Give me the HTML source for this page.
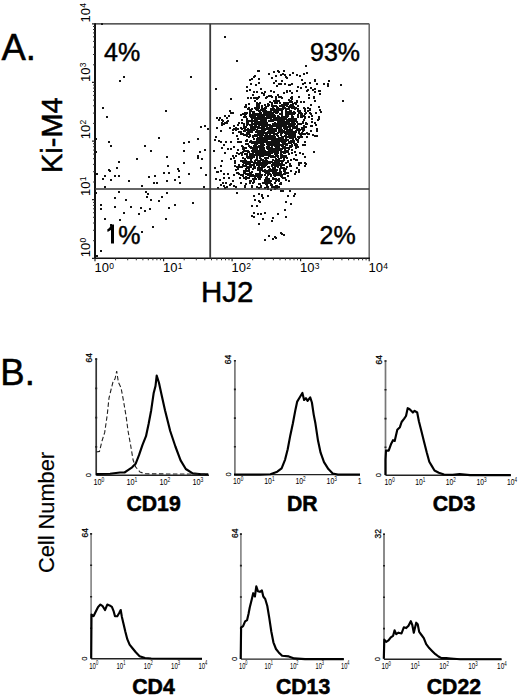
<!DOCTYPE html>
<html><head><meta charset="utf-8"><title>Figure</title><style>
html,body{margin:0;padding:0;background:#fff;width:520px;height:696px;overflow:hidden}
svg{display:block}
text{font-family:"Liberation Sans",sans-serif;fill:#000}
</style></head><body>
<svg width="520" height="696" viewBox="0 0 520 696">
<text x="1.5" y="59.8" font-size="36.5" stroke="#000" stroke-width="0.5">A.</text>
<path d="M101 23h2v2h-2zM119 80h2v2h-2zM123 76h2v2h-2zM190 76h2v2h-2zM102 107h2v2h-2zM102 107h2v2h-2zM106 116h2v2h-2zM165 110h2v2h-2zM200 126h2v2h-2zM204 125h2v2h-2zM207 128h2v2h-2zM95 138h2v2h-2zM108 141h2v2h-2zM110 145h2v2h-2zM158 137h2v2h-2zM144 145h2v2h-2zM150 150h2v2h-2zM95 151h2v2h-2zM136 158h2v2h-2zM166 156h2v2h-2zM183 142h2v2h-2zM188 141h2v2h-2zM197 138h2v2h-2zM183 150h2v2h-2zM199 151h2v2h-2zM204 149h2v2h-2zM197 155h2v2h-2zM197 157h2v2h-2zM201 158h2v2h-2zM118 161h2v2h-2zM116 167h2v2h-2zM108 169h2v2h-2zM109 170h2v2h-2zM167 165h2v2h-2zM183 162h2v2h-2zM200 167h2v2h-2zM96 173h2v2h-2zM104 175h2v2h-2zM114 175h2v2h-2zM118 175h2v2h-2zM177 168h2v2h-2zM178 170h2v2h-2zM163 172h2v2h-2zM168 172h2v2h-2zM188 173h2v2h-2zM205 174h2v2h-2zM102 178h2v2h-2zM110 179h2v2h-2zM128 180h2v2h-2zM148 176h2v2h-2zM154 175h2v2h-2zM178 176h2v2h-2zM166 180h2v2h-2zM174 179h2v2h-2zM153 182h2v2h-2zM156 182h2v2h-2zM179 182h2v2h-2zM141 185h2v2h-2zM104 186h2v2h-2zM203 186h2v2h-2zM95 192h2v2h-2zM118 191h2v2h-2zM145 191h2v2h-2zM147 193h2v2h-2zM166 192h2v2h-2zM114 197h2v2h-2zM125 199h2v2h-2zM146 196h2v2h-2zM150 199h2v2h-2zM158 200h2v2h-2zM161 196h2v2h-2zM100 204h2v2h-2zM114 206h2v2h-2zM130 206h2v2h-2zM140 207h2v2h-2zM149 208h2v2h-2zM144 210h2v2h-2zM168 207h2v2h-2zM174 204h2v2h-2zM192 202h2v2h-2zM100 208h2v2h-2zM123 212h2v2h-2zM138 213h2v2h-2zM104 218h2v2h-2zM119 219h2v2h-2zM165 218h2v2h-2zM110 224h2v2h-2zM152 226h2v2h-2zM141 231h2v2h-2zM100 250h2v2h-2zM96 255h2v2h-2zM224 36h2v2h-2zM236 60h2v2h-2zM305 65h2v2h-2zM215 88h2v2h-2zM340 84h2v2h-2zM342 100h2v2h-2zM230 98h2v2h-2zM267 124h2v2h-2zM301 116h2v2h-2zM267 131h2v2h-2zM276 139h2v2h-2zM305 126h2v2h-2zM276 124h2v2h-2zM253 138h2v2h-2zM267 105h2v2h-2zM284 104h2v2h-2zM258 104h2v2h-2zM278 127h2v2h-2zM256 117h2v2h-2zM279 123h2v2h-2zM255 152h2v2h-2zM297 108h2v2h-2zM264 120h2v2h-2zM260 143h2v2h-2zM251 108h2v2h-2zM256 104h2v2h-2zM283 116h2v2h-2zM249 111h2v2h-2zM285 104h2v2h-2zM290 120h2v2h-2zM262 116h2v2h-2zM268 152h2v2h-2zM271 127h2v2h-2zM278 109h2v2h-2zM251 118h2v2h-2zM275 109h2v2h-2zM277 144h2v2h-2zM285 114h2v2h-2zM267 132h2v2h-2zM285 121h2v2h-2zM295 145h2v2h-2zM286 132h2v2h-2zM266 117h2v2h-2zM250 116h2v2h-2zM259 132h2v2h-2zM292 107h2v2h-2zM273 133h2v2h-2zM256 135h2v2h-2zM268 148h2v2h-2zM265 125h2v2h-2zM284 149h2v2h-2zM268 104h2v2h-2zM296 144h2v2h-2zM253 141h2v2h-2zM264 104h2v2h-2zM266 147h2v2h-2zM245 126h2v2h-2zM290 104h2v2h-2zM272 123h2v2h-2zM287 123h2v2h-2zM271 114h2v2h-2zM279 138h2v2h-2zM260 117h2v2h-2zM253 149h2v2h-2zM269 126h2v2h-2zM264 135h2v2h-2zM246 139h2v2h-2zM253 123h2v2h-2zM268 135h2v2h-2zM288 133h2v2h-2zM246 120h2v2h-2zM291 144h2v2h-2zM294 123h2v2h-2zM279 148h2v2h-2zM285 131h2v2h-2zM284 139h2v2h-2zM292 118h2v2h-2zM275 148h2v2h-2zM261 115h2v2h-2zM291 116h2v2h-2zM275 130h2v2h-2zM258 146h2v2h-2zM283 127h2v2h-2zM272 136h2v2h-2zM279 118h2v2h-2zM258 118h2v2h-2zM252 120h2v2h-2zM275 141h2v2h-2zM294 133h2v2h-2zM288 142h2v2h-2zM267 142h2v2h-2zM289 133h2v2h-2zM265 125h2v2h-2zM294 144h2v2h-2zM244 128h2v2h-2zM277 111h2v2h-2zM261 123h2v2h-2zM254 107h2v2h-2zM268 146h2v2h-2zM271 147h2v2h-2zM272 143h2v2h-2zM276 141h2v2h-2zM252 113h2v2h-2zM286 119h2v2h-2zM296 129h2v2h-2zM274 125h2v2h-2zM284 147h2v2h-2zM265 111h2v2h-2zM240 133h2v2h-2zM243 127h2v2h-2zM286 120h2v2h-2zM291 152h2v2h-2zM266 122h2v2h-2zM271 142h2v2h-2zM298 128h2v2h-2zM265 107h2v2h-2zM274 148h2v2h-2zM259 111h2v2h-2zM262 142h2v2h-2zM266 146h2v2h-2zM278 145h2v2h-2zM272 142h2v2h-2zM257 97h2v2h-2zM250 120h2v2h-2zM276 112h2v2h-2zM261 117h2v2h-2zM242 133h2v2h-2zM282 142h2v2h-2zM286 122h2v2h-2zM271 125h2v2h-2zM265 97h2v2h-2zM241 128h2v2h-2zM252 126h2v2h-2zM281 112h2v2h-2zM248 120h2v2h-2zM266 96h2v2h-2zM246 129h2v2h-2zM247 128h2v2h-2zM263 139h2v2h-2zM273 105h2v2h-2zM265 132h2v2h-2zM251 130h2v2h-2zM283 120h2v2h-2zM281 114h2v2h-2zM278 116h2v2h-2zM263 141h2v2h-2zM282 125h2v2h-2zM256 102h2v2h-2zM246 135h2v2h-2zM277 118h2v2h-2zM263 122h2v2h-2zM271 126h2v2h-2zM280 125h2v2h-2zM263 119h2v2h-2zM294 131h2v2h-2zM236 135h2v2h-2zM274 148h2v2h-2zM286 132h2v2h-2zM249 134h2v2h-2zM272 141h2v2h-2zM279 131h2v2h-2zM261 108h2v2h-2zM281 110h2v2h-2zM254 113h2v2h-2zM258 115h2v2h-2zM303 127h2v2h-2zM280 133h2v2h-2zM297 105h2v2h-2zM290 97h2v2h-2zM267 103h2v2h-2zM269 138h2v2h-2zM293 119h2v2h-2zM274 148h2v2h-2zM248 132h2v2h-2zM267 144h2v2h-2zM262 132h2v2h-2zM296 100h2v2h-2zM272 106h2v2h-2zM302 144h2v2h-2zM312 134h2v2h-2zM287 103h2v2h-2zM279 117h2v2h-2zM270 141h2v2h-2zM280 134h2v2h-2zM275 97h2v2h-2zM274 115h2v2h-2zM237 138h2v2h-2zM276 134h2v2h-2zM303 101h2v2h-2zM269 124h2v2h-2zM249 109h2v2h-2zM284 143h2v2h-2zM302 133h2v2h-2zM275 141h2v2h-2zM270 143h2v2h-2zM270 120h2v2h-2zM290 142h2v2h-2zM273 137h2v2h-2zM304 113h2v2h-2zM281 140h2v2h-2zM295 154h2v2h-2zM254 125h2v2h-2zM263 126h2v2h-2zM277 120h2v2h-2zM262 125h2v2h-2zM254 127h2v2h-2zM288 134h2v2h-2zM285 143h2v2h-2zM285 121h2v2h-2zM289 120h2v2h-2zM253 127h2v2h-2zM269 133h2v2h-2zM297 129h2v2h-2zM256 148h2v2h-2zM276 126h2v2h-2zM299 110h2v2h-2zM299 110h2v2h-2zM303 107h2v2h-2zM258 113h2v2h-2zM283 102h2v2h-2zM278 138h2v2h-2zM263 129h2v2h-2zM301 128h2v2h-2zM257 134h2v2h-2zM303 126h2v2h-2zM265 123h2v2h-2zM285 115h2v2h-2zM272 124h2v2h-2zM247 131h2v2h-2zM252 117h2v2h-2zM265 121h2v2h-2zM254 134h2v2h-2zM267 143h2v2h-2zM272 105h2v2h-2zM262 127h2v2h-2zM268 147h2v2h-2zM253 135h2v2h-2zM265 114h2v2h-2zM293 133h2v2h-2zM278 130h2v2h-2zM281 129h2v2h-2zM262 153h2v2h-2zM257 114h2v2h-2zM259 102h2v2h-2zM282 118h2v2h-2zM272 116h2v2h-2zM272 129h2v2h-2zM291 113h2v2h-2zM254 123h2v2h-2zM249 134h2v2h-2zM262 134h2v2h-2zM252 123h2v2h-2zM287 108h2v2h-2zM264 123h2v2h-2zM275 123h2v2h-2zM260 123h2v2h-2zM256 106h2v2h-2zM261 114h2v2h-2zM286 147h2v2h-2zM281 138h2v2h-2zM269 141h2v2h-2zM279 109h2v2h-2zM274 100h2v2h-2zM295 118h2v2h-2zM292 104h2v2h-2zM249 135h2v2h-2zM258 107h2v2h-2zM250 110h2v2h-2zM277 132h2v2h-2zM262 130h2v2h-2zM273 117h2v2h-2zM249 124h2v2h-2zM252 141h2v2h-2zM269 120h2v2h-2zM272 112h2v2h-2zM260 119h2v2h-2zM257 137h2v2h-2zM271 140h2v2h-2zM275 124h2v2h-2zM245 134h2v2h-2zM257 131h2v2h-2zM257 146h2v2h-2zM275 138h2v2h-2zM247 128h2v2h-2zM260 146h2v2h-2zM289 101h2v2h-2zM256 139h2v2h-2zM288 123h2v2h-2zM276 153h2v2h-2zM258 106h2v2h-2zM261 115h2v2h-2zM268 114h2v2h-2zM292 124h2v2h-2zM257 104h2v2h-2zM267 137h2v2h-2zM249 120h2v2h-2zM263 114h2v2h-2zM251 115h2v2h-2zM286 130h2v2h-2zM271 115h2v2h-2zM289 127h2v2h-2zM278 147h2v2h-2zM289 113h2v2h-2zM274 116h2v2h-2zM278 121h2v2h-2zM271 126h2v2h-2zM243 125h2v2h-2zM286 122h2v2h-2zM287 111h2v2h-2zM240 114h2v2h-2zM257 134h2v2h-2zM297 108h2v2h-2zM249 131h2v2h-2zM286 127h2v2h-2zM291 131h2v2h-2zM271 109h2v2h-2zM291 140h2v2h-2zM300 134h2v2h-2zM296 101h2v2h-2zM277 126h2v2h-2zM251 126h2v2h-2zM278 142h2v2h-2zM261 123h2v2h-2zM271 128h2v2h-2zM255 122h2v2h-2zM264 109h2v2h-2zM269 143h2v2h-2zM256 135h2v2h-2zM257 132h2v2h-2zM275 105h2v2h-2zM291 118h2v2h-2zM257 139h2v2h-2zM268 150h2v2h-2zM285 109h2v2h-2zM270 137h2v2h-2zM288 125h2v2h-2zM307 107h2v2h-2zM250 129h2v2h-2zM284 125h2v2h-2zM260 122h2v2h-2zM273 109h2v2h-2zM283 104h2v2h-2zM294 120h2v2h-2zM280 122h2v2h-2zM292 125h2v2h-2zM277 107h2v2h-2zM253 145h2v2h-2zM274 102h2v2h-2zM249 141h2v2h-2zM281 111h2v2h-2zM291 152h2v2h-2zM283 143h2v2h-2zM287 139h2v2h-2zM265 134h2v2h-2zM298 130h2v2h-2zM285 144h2v2h-2zM293 134h2v2h-2zM263 129h2v2h-2zM276 106h2v2h-2zM293 118h2v2h-2zM256 147h2v2h-2zM274 124h2v2h-2zM253 115h2v2h-2zM266 140h2v2h-2zM294 132h2v2h-2zM289 131h2v2h-2zM260 116h2v2h-2zM269 127h2v2h-2zM294 136h2v2h-2zM244 130h2v2h-2zM274 145h2v2h-2zM268 131h2v2h-2zM272 155h2v2h-2zM268 120h2v2h-2zM271 105h2v2h-2zM296 144h2v2h-2zM243 134h2v2h-2zM250 127h2v2h-2zM263 112h2v2h-2zM280 140h2v2h-2zM267 113h2v2h-2zM272 125h2v2h-2zM275 112h2v2h-2zM253 117h2v2h-2zM277 107h2v2h-2zM288 99h2v2h-2zM259 118h2v2h-2zM248 133h2v2h-2zM281 125h2v2h-2zM285 118h2v2h-2zM262 110h2v2h-2zM254 115h2v2h-2zM270 148h2v2h-2zM257 141h2v2h-2zM284 128h2v2h-2zM251 122h2v2h-2zM298 137h2v2h-2zM264 136h2v2h-2zM259 117h2v2h-2zM281 154h2v2h-2zM254 100h2v2h-2zM281 125h2v2h-2zM297 123h2v2h-2zM261 141h2v2h-2zM260 112h2v2h-2zM289 123h2v2h-2zM289 106h2v2h-2zM258 138h2v2h-2zM280 129h2v2h-2zM279 119h2v2h-2zM288 118h2v2h-2zM261 146h2v2h-2zM263 144h2v2h-2zM297 141h2v2h-2zM258 122h2v2h-2zM259 132h2v2h-2zM261 105h2v2h-2zM256 134h2v2h-2zM286 111h2v2h-2zM296 127h2v2h-2zM288 142h2v2h-2zM273 100h2v2h-2zM259 133h2v2h-2zM246 134h2v2h-2zM247 108h2v2h-2zM261 125h2v2h-2zM264 110h2v2h-2zM254 119h2v2h-2zM292 134h2v2h-2zM269 142h2v2h-2zM271 115h2v2h-2zM272 107h2v2h-2zM283 106h2v2h-2zM256 150h2v2h-2zM281 132h2v2h-2zM285 112h2v2h-2zM292 141h2v2h-2zM288 148h2v2h-2zM268 117h2v2h-2zM286 119h2v2h-2zM294 127h2v2h-2zM266 112h2v2h-2zM251 115h2v2h-2zM298 136h2v2h-2zM286 105h2v2h-2zM290 146h2v2h-2zM262 150h2v2h-2zM264 107h2v2h-2zM297 129h2v2h-2zM271 120h2v2h-2zM276 112h2v2h-2zM280 137h2v2h-2zM278 122h2v2h-2zM264 129h2v2h-2zM289 120h2v2h-2zM270 143h2v2h-2zM243 116h2v2h-2zM281 114h2v2h-2zM274 122h2v2h-2zM255 135h2v2h-2zM265 135h2v2h-2zM295 131h2v2h-2zM260 133h2v2h-2zM293 113h2v2h-2zM270 117h2v2h-2zM289 131h2v2h-2zM295 107h2v2h-2zM266 125h2v2h-2zM293 106h2v2h-2zM275 125h2v2h-2zM283 121h2v2h-2zM285 110h2v2h-2zM255 125h2v2h-2zM258 118h2v2h-2zM291 123h2v2h-2zM256 107h2v2h-2zM262 114h2v2h-2zM283 123h2v2h-2zM251 128h2v2h-2zM235 129h2v2h-2zM269 120h2v2h-2zM254 121h2v2h-2zM256 113h2v2h-2zM247 121h2v2h-2zM270 144h2v2h-2zM282 106h2v2h-2zM283 125h2v2h-2zM277 115h2v2h-2zM271 119h2v2h-2zM266 113h2v2h-2zM289 137h2v2h-2zM281 131h2v2h-2zM273 114h2v2h-2zM281 119h2v2h-2zM284 135h2v2h-2zM271 102h2v2h-2zM273 117h2v2h-2zM292 120h2v2h-2zM245 113h2v2h-2zM262 144h2v2h-2zM240 131h2v2h-2zM263 137h2v2h-2zM281 148h2v2h-2zM287 131h2v2h-2zM249 113h2v2h-2zM283 103h2v2h-2zM278 128h2v2h-2zM292 133h2v2h-2zM290 140h2v2h-2zM291 116h2v2h-2zM283 107h2v2h-2zM259 134h2v2h-2zM271 135h2v2h-2zM296 139h2v2h-2zM281 110h2v2h-2zM281 137h2v2h-2zM279 113h2v2h-2zM292 112h2v2h-2zM259 136h2v2h-2zM274 124h2v2h-2zM260 130h2v2h-2zM272 120h2v2h-2zM277 111h2v2h-2zM281 132h2v2h-2zM260 144h2v2h-2zM284 126h2v2h-2zM283 118h2v2h-2zM258 116h2v2h-2zM256 123h2v2h-2zM262 123h2v2h-2zM263 150h2v2h-2zM285 137h2v2h-2zM291 132h2v2h-2zM262 122h2v2h-2zM285 140h2v2h-2zM245 106h2v2h-2zM255 126h2v2h-2zM274 130h2v2h-2zM285 114h2v2h-2zM273 105h2v2h-2zM252 136h2v2h-2zM278 137h2v2h-2zM272 124h2v2h-2zM287 129h2v2h-2zM308 133h2v2h-2zM271 105h2v2h-2zM280 144h2v2h-2zM277 132h2v2h-2zM294 136h2v2h-2zM262 125h2v2h-2zM288 130h2v2h-2zM255 114h2v2h-2zM262 153h2v2h-2zM274 150h2v2h-2zM280 108h2v2h-2zM281 123h2v2h-2zM286 139h2v2h-2zM305 123h2v2h-2zM289 120h2v2h-2zM252 136h2v2h-2zM294 112h2v2h-2zM269 141h2v2h-2zM251 114h2v2h-2zM281 144h2v2h-2zM274 137h2v2h-2zM269 115h2v2h-2zM249 120h2v2h-2zM275 130h2v2h-2zM289 113h2v2h-2zM301 132h2v2h-2zM246 140h2v2h-2zM254 120h2v2h-2zM290 134h2v2h-2zM264 141h2v2h-2zM260 114h2v2h-2zM255 113h2v2h-2zM272 148h2v2h-2zM265 118h2v2h-2zM271 141h2v2h-2zM289 110h2v2h-2zM278 100h2v2h-2zM260 114h2v2h-2zM290 125h2v2h-2zM286 113h2v2h-2zM275 139h2v2h-2zM284 132h2v2h-2zM256 118h2v2h-2zM274 133h2v2h-2zM280 109h2v2h-2zM269 101h2v2h-2zM290 129h2v2h-2zM271 125h2v2h-2zM258 132h2v2h-2zM299 129h2v2h-2zM292 103h2v2h-2zM280 105h2v2h-2zM273 129h2v2h-2zM281 111h2v2h-2zM276 149h2v2h-2zM262 126h2v2h-2zM294 120h2v2h-2zM272 131h2v2h-2zM256 130h2v2h-2zM299 136h2v2h-2zM260 145h2v2h-2zM273 142h2v2h-2zM293 119h2v2h-2zM288 122h2v2h-2zM284 123h2v2h-2zM282 137h2v2h-2zM286 113h2v2h-2zM267 146h2v2h-2zM277 116h2v2h-2zM290 135h2v2h-2zM276 138h2v2h-2zM285 136h2v2h-2zM275 138h2v2h-2zM293 111h2v2h-2zM285 117h2v2h-2zM252 112h2v2h-2zM279 137h2v2h-2zM269 128h2v2h-2zM270 110h2v2h-2zM268 127h2v2h-2zM253 142h2v2h-2zM276 117h2v2h-2zM256 134h2v2h-2zM260 153h2v2h-2zM300 123h2v2h-2zM242 146h2v2h-2zM258 140h2v2h-2zM290 136h2v2h-2zM283 131h2v2h-2zM246 124h2v2h-2zM243 113h2v2h-2zM247 123h2v2h-2zM263 130h2v2h-2zM272 139h2v2h-2zM268 115h2v2h-2zM253 120h2v2h-2zM256 113h2v2h-2zM263 137h2v2h-2zM254 128h2v2h-2zM292 131h2v2h-2zM269 112h2v2h-2zM258 132h2v2h-2zM257 116h2v2h-2zM257 118h2v2h-2zM263 138h2v2h-2zM297 110h2v2h-2zM279 131h2v2h-2zM271 127h2v2h-2zM285 104h2v2h-2zM298 123h2v2h-2zM267 151h2v2h-2zM291 135h2v2h-2zM283 123h2v2h-2zM261 127h2v2h-2zM269 135h2v2h-2zM250 127h2v2h-2zM292 118h2v2h-2zM273 119h2v2h-2zM271 104h2v2h-2zM284 141h2v2h-2zM283 116h2v2h-2zM273 149h2v2h-2zM252 128h2v2h-2zM277 143h2v2h-2zM301 113h2v2h-2zM285 151h2v2h-2zM291 101h2v2h-2zM270 113h2v2h-2zM248 129h2v2h-2zM270 108h2v2h-2zM255 121h2v2h-2zM259 127h2v2h-2zM268 128h2v2h-2zM262 128h2v2h-2zM261 146h2v2h-2zM288 147h2v2h-2zM279 117h2v2h-2zM289 118h2v2h-2zM274 110h2v2h-2zM263 108h2v2h-2zM235 127h2v2h-2zM282 155h2v2h-2zM260 144h2v2h-2zM288 153h2v2h-2zM266 115h2v2h-2zM246 118h2v2h-2zM302 121h2v2h-2zM286 136h2v2h-2zM285 144h2v2h-2zM271 155h2v2h-2zM263 117h2v2h-2zM264 129h2v2h-2zM242 113h2v2h-2zM256 134h2v2h-2zM304 141h2v2h-2zM260 109h2v2h-2zM273 129h2v2h-2zM278 138h2v2h-2zM291 122h2v2h-2zM266 127h2v2h-2zM286 131h2v2h-2zM293 124h2v2h-2zM263 127h2v2h-2zM297 114h2v2h-2zM256 143h2v2h-2zM272 125h2v2h-2zM270 119h2v2h-2zM278 139h2v2h-2zM283 139h2v2h-2zM273 124h2v2h-2zM275 141h2v2h-2zM287 122h2v2h-2zM288 108h2v2h-2zM270 95h2v2h-2zM258 138h2v2h-2zM304 117h2v2h-2zM256 126h2v2h-2zM249 115h2v2h-2zM297 116h2v2h-2zM293 131h2v2h-2zM295 126h2v2h-2zM262 140h2v2h-2zM273 140h2v2h-2zM259 136h2v2h-2zM253 129h2v2h-2zM278 140h2v2h-2zM264 138h2v2h-2zM284 127h2v2h-2zM294 118h2v2h-2zM288 126h2v2h-2zM297 139h2v2h-2zM293 136h2v2h-2zM256 121h2v2h-2zM262 130h2v2h-2zM256 138h2v2h-2zM285 134h2v2h-2zM265 120h2v2h-2zM290 100h2v2h-2zM275 99h2v2h-2zM269 120h2v2h-2zM287 131h2v2h-2zM261 129h2v2h-2zM256 106h2v2h-2zM287 126h2v2h-2zM295 119h2v2h-2zM291 136h2v2h-2zM262 147h2v2h-2zM292 103h2v2h-2zM248 107h2v2h-2zM275 96h2v2h-2zM260 117h2v2h-2zM286 139h2v2h-2zM275 142h2v2h-2zM291 149h2v2h-2zM271 115h2v2h-2zM264 132h2v2h-2zM276 107h2v2h-2zM258 125h2v2h-2zM260 119h2v2h-2zM279 105h2v2h-2zM276 125h2v2h-2zM265 128h2v2h-2zM284 121h2v2h-2zM267 135h2v2h-2zM279 129h2v2h-2zM287 113h2v2h-2zM291 125h2v2h-2zM300 101h2v2h-2zM268 129h2v2h-2zM286 111h2v2h-2zM265 117h2v2h-2zM262 146h2v2h-2zM286 104h2v2h-2zM308 116h2v2h-2zM276 127h2v2h-2zM262 125h2v2h-2zM245 140h2v2h-2zM292 137h2v2h-2zM273 108h2v2h-2zM256 120h2v2h-2zM292 136h2v2h-2zM290 130h2v2h-2zM258 124h2v2h-2zM276 161h2v2h-2zM263 130h2v2h-2zM271 132h2v2h-2zM253 146h2v2h-2zM258 110h2v2h-2zM276 133h2v2h-2zM280 150h2v2h-2zM278 96h2v2h-2zM273 110h2v2h-2zM240 127h2v2h-2zM261 92h2v2h-2zM290 110h2v2h-2zM295 144h2v2h-2zM285 125h2v2h-2zM270 135h2v2h-2zM268 136h2v2h-2zM287 111h2v2h-2zM289 112h2v2h-2zM281 145h2v2h-2zM254 119h2v2h-2zM279 121h2v2h-2zM266 139h2v2h-2zM273 130h2v2h-2zM285 123h2v2h-2zM287 102h2v2h-2zM278 161h2v2h-2zM253 111h2v2h-2zM255 108h2v2h-2zM285 108h2v2h-2zM275 110h2v2h-2zM276 142h2v2h-2zM258 121h2v2h-2zM243 130h2v2h-2zM291 98h2v2h-2zM267 147h2v2h-2zM302 130h2v2h-2zM282 121h2v2h-2zM280 118h2v2h-2zM273 132h2v2h-2zM256 129h2v2h-2zM270 112h2v2h-2zM280 117h2v2h-2zM261 144h2v2h-2zM248 136h2v2h-2zM272 144h2v2h-2zM260 124h2v2h-2zM282 130h2v2h-2zM275 138h2v2h-2zM292 116h2v2h-2zM277 149h2v2h-2zM278 144h2v2h-2zM274 139h2v2h-2zM273 119h2v2h-2zM279 122h2v2h-2zM275 128h2v2h-2zM298 129h2v2h-2zM255 145h2v2h-2zM272 124h2v2h-2zM269 148h2v2h-2zM289 105h2v2h-2zM277 121h2v2h-2zM291 105h2v2h-2zM300 112h2v2h-2zM265 125h2v2h-2zM247 97h2v2h-2zM243 123h2v2h-2zM288 106h2v2h-2zM296 121h2v2h-2zM287 151h2v2h-2zM274 151h2v2h-2zM294 134h2v2h-2zM265 106h2v2h-2zM292 139h2v2h-2zM278 125h2v2h-2zM303 129h2v2h-2zM295 107h2v2h-2zM286 144h2v2h-2zM264 118h2v2h-2zM272 116h2v2h-2zM275 101h2v2h-2zM289 125h2v2h-2zM241 145h2v2h-2zM256 141h2v2h-2zM280 138h2v2h-2zM262 125h2v2h-2zM304 108h2v2h-2zM273 111h2v2h-2zM281 117h2v2h-2zM284 124h2v2h-2zM267 128h2v2h-2zM259 142h2v2h-2zM269 141h2v2h-2zM272 125h2v2h-2zM299 133h2v2h-2zM263 94h2v2h-2zM289 124h2v2h-2zM293 126h2v2h-2zM250 109h2v2h-2zM254 126h2v2h-2zM264 122h2v2h-2zM265 113h2v2h-2zM295 147h2v2h-2zM249 130h2v2h-2zM281 115h2v2h-2zM256 147h2v2h-2zM269 134h2v2h-2zM264 140h2v2h-2zM299 152h2v2h-2zM257 150h2v2h-2zM257 122h2v2h-2zM284 107h2v2h-2zM263 148h2v2h-2zM274 153h2v2h-2zM294 108h2v2h-2zM283 121h2v2h-2zM289 130h2v2h-2zM268 116h2v2h-2zM260 115h2v2h-2zM289 119h2v2h-2zM257 114h2v2h-2zM264 122h2v2h-2zM258 123h2v2h-2zM289 134h2v2h-2zM293 140h2v2h-2zM286 133h2v2h-2zM316 130h2v2h-2zM290 146h2v2h-2zM291 129h2v2h-2zM303 115h2v2h-2zM262 118h2v2h-2zM281 113h2v2h-2zM254 117h2v2h-2zM280 120h2v2h-2zM261 136h2v2h-2zM286 131h2v2h-2zM280 127h2v2h-2zM244 106h2v2h-2zM275 140h2v2h-2zM274 136h2v2h-2zM287 115h2v2h-2zM283 105h2v2h-2zM285 147h2v2h-2zM286 119h2v2h-2zM268 111h2v2h-2zM310 130h2v2h-2zM266 141h2v2h-2zM268 141h2v2h-2zM257 127h2v2h-2zM297 105h2v2h-2zM279 102h2v2h-2zM256 105h2v2h-2zM254 143h2v2h-2zM255 131h2v2h-2zM274 119h2v2h-2zM262 109h2v2h-2zM264 150h2v2h-2zM262 152h2v2h-2zM285 117h2v2h-2zM282 122h2v2h-2zM285 124h2v2h-2zM258 130h2v2h-2zM245 113h2v2h-2zM257 132h2v2h-2zM270 127h2v2h-2zM290 136h2v2h-2zM309 112h2v2h-2zM294 151h2v2h-2zM285 121h2v2h-2zM258 107h2v2h-2zM270 120h2v2h-2zM276 102h2v2h-2zM264 114h2v2h-2zM289 128h2v2h-2zM294 123h2v2h-2zM280 134h2v2h-2zM302 122h2v2h-2zM291 130h2v2h-2zM278 122h2v2h-2zM262 128h2v2h-2zM267 111h2v2h-2zM260 152h2v2h-2zM275 118h2v2h-2zM303 126h2v2h-2zM281 145h2v2h-2zM260 121h2v2h-2zM246 132h2v2h-2zM250 125h2v2h-2zM251 131h2v2h-2zM302 115h2v2h-2zM291 137h2v2h-2zM273 125h2v2h-2zM301 127h2v2h-2zM275 145h2v2h-2zM245 116h2v2h-2zM241 119h2v2h-2zM282 108h2v2h-2zM275 139h2v2h-2zM282 119h2v2h-2zM262 114h2v2h-2zM291 96h2v2h-2zM293 142h2v2h-2zM290 130h2v2h-2zM256 109h2v2h-2zM261 134h2v2h-2zM263 116h2v2h-2zM284 102h2v2h-2zM273 128h2v2h-2zM286 116h2v2h-2zM261 107h2v2h-2zM300 114h2v2h-2zM258 151h2v2h-2zM259 134h2v2h-2zM274 116h2v2h-2zM262 119h2v2h-2zM290 112h2v2h-2zM283 130h2v2h-2zM285 139h2v2h-2zM305 122h2v2h-2zM267 132h2v2h-2zM269 131h2v2h-2zM265 110h2v2h-2zM277 145h2v2h-2zM263 125h2v2h-2zM291 140h2v2h-2zM248 103h2v2h-2zM254 134h2v2h-2zM298 112h2v2h-2zM247 131h2v2h-2zM278 124h2v2h-2zM259 116h2v2h-2zM261 124h2v2h-2zM270 141h2v2h-2zM291 114h2v2h-2zM282 123h2v2h-2zM256 126h2v2h-2zM254 127h2v2h-2zM268 111h2v2h-2zM273 117h2v2h-2zM295 143h2v2h-2zM252 135h2v2h-2zM257 108h2v2h-2zM279 126h2v2h-2zM264 122h2v2h-2zM310 125h2v2h-2zM300 113h2v2h-2zM295 130h2v2h-2zM295 138h2v2h-2zM245 104h2v2h-2zM262 120h2v2h-2zM257 142h2v2h-2zM275 158h2v2h-2zM262 131h2v2h-2zM266 122h2v2h-2zM291 107h2v2h-2zM244 112h2v2h-2zM276 100h2v2h-2zM281 114h2v2h-2zM241 122h2v2h-2zM264 139h2v2h-2zM246 112h2v2h-2zM263 125h2v2h-2zM277 152h2v2h-2zM275 133h2v2h-2zM298 137h2v2h-2zM256 109h2v2h-2zM295 103h2v2h-2zM254 122h2v2h-2zM270 114h2v2h-2zM279 108h2v2h-2zM276 134h2v2h-2zM290 118h2v2h-2zM274 102h2v2h-2zM290 112h2v2h-2zM258 123h2v2h-2zM270 130h2v2h-2zM290 130h2v2h-2zM273 117h2v2h-2zM275 119h2v2h-2zM295 147h2v2h-2zM298 136h2v2h-2zM273 109h2v2h-2zM276 118h2v2h-2zM289 112h2v2h-2zM262 143h2v2h-2zM303 125h2v2h-2zM286 102h2v2h-2zM252 111h2v2h-2zM264 140h2v2h-2zM287 131h2v2h-2zM249 129h2v2h-2zM262 108h2v2h-2zM288 129h2v2h-2zM271 138h2v2h-2zM251 124h2v2h-2zM270 117h2v2h-2zM264 135h2v2h-2zM280 132h2v2h-2zM260 147h2v2h-2zM276 145h2v2h-2zM250 129h2v2h-2zM267 142h2v2h-2zM283 103h2v2h-2zM281 136h2v2h-2zM244 116h2v2h-2zM277 122h2v2h-2zM294 127h2v2h-2zM292 127h2v2h-2zM265 132h2v2h-2zM277 135h2v2h-2zM267 136h2v2h-2zM276 143h2v2h-2zM288 120h2v2h-2zM267 112h2v2h-2zM271 138h2v2h-2zM291 113h2v2h-2zM286 143h2v2h-2zM258 137h2v2h-2zM271 145h2v2h-2zM270 110h2v2h-2zM305 112h2v2h-2zM283 140h2v2h-2zM272 129h2v2h-2zM293 121h2v2h-2zM256 98h2v2h-2zM268 146h2v2h-2zM263 154h2v2h-2zM293 123h2v2h-2zM286 116h2v2h-2zM285 156h2v2h-2zM306 136h2v2h-2zM285 124h2v2h-2zM281 121h2v2h-2zM275 124h2v2h-2zM264 150h2v2h-2zM297 136h2v2h-2zM267 148h2v2h-2zM257 103h2v2h-2zM286 129h2v2h-2zM296 125h2v2h-2zM276 109h2v2h-2zM285 144h2v2h-2zM285 118h2v2h-2zM258 124h2v2h-2zM265 117h2v2h-2zM252 114h2v2h-2zM283 146h2v2h-2zM289 135h2v2h-2zM281 104h2v2h-2zM269 138h2v2h-2zM284 127h2v2h-2zM300 116h2v2h-2zM284 128h2v2h-2zM279 118h2v2h-2zM288 112h2v2h-2zM288 136h2v2h-2zM256 106h2v2h-2zM270 128h2v2h-2zM269 144h2v2h-2zM246 122h2v2h-2zM264 151h2v2h-2zM297 141h2v2h-2zM244 115h2v2h-2zM303 119h2v2h-2zM298 132h2v2h-2zM263 93h2v2h-2zM280 96h2v2h-2zM258 113h2v2h-2zM294 102h2v2h-2zM294 134h2v2h-2zM274 149h2v2h-2zM270 161h2v2h-2zM244 158h2v2h-2zM248 162h2v2h-2zM253 181h2v2h-2zM274 175h2v2h-2zM293 158h2v2h-2zM273 171h2v2h-2zM261 150h2v2h-2zM264 181h2v2h-2zM264 138h2v2h-2zM261 162h2v2h-2zM290 159h2v2h-2zM280 154h2v2h-2zM254 160h2v2h-2zM286 157h2v2h-2zM276 152h2v2h-2zM273 149h2v2h-2zM282 167h2v2h-2zM262 159h2v2h-2zM284 170h2v2h-2zM237 168h2v2h-2zM256 159h2v2h-2zM275 185h2v2h-2zM265 153h2v2h-2zM249 172h2v2h-2zM253 166h2v2h-2zM285 137h2v2h-2zM272 170h2v2h-2zM258 154h2v2h-2zM255 145h2v2h-2zM279 170h2v2h-2zM255 144h2v2h-2zM271 186h2v2h-2zM250 155h2v2h-2zM280 190h2v2h-2zM254 154h2v2h-2zM287 161h2v2h-2zM278 159h2v2h-2zM277 166h2v2h-2zM263 166h2v2h-2zM244 185h2v2h-2zM247 177h2v2h-2zM257 167h2v2h-2zM270 169h2v2h-2zM264 150h2v2h-2zM270 144h2v2h-2zM270 156h2v2h-2zM263 147h2v2h-2zM253 164h2v2h-2zM243 162h2v2h-2zM267 157h2v2h-2zM248 170h2v2h-2zM267 141h2v2h-2zM261 174h2v2h-2zM269 168h2v2h-2zM245 183h2v2h-2zM283 173h2v2h-2zM272 144h2v2h-2zM262 155h2v2h-2zM236 166h2v2h-2zM243 149h2v2h-2zM277 150h2v2h-2zM249 156h2v2h-2zM276 142h2v2h-2zM259 170h2v2h-2zM253 155h2v2h-2zM249 180h2v2h-2zM259 183h2v2h-2zM281 174h2v2h-2zM255 142h2v2h-2zM252 155h2v2h-2zM256 152h2v2h-2zM254 149h2v2h-2zM251 164h2v2h-2zM252 174h2v2h-2zM261 137h2v2h-2zM242 160h2v2h-2zM260 154h2v2h-2zM259 160h2v2h-2zM267 143h2v2h-2zM259 149h2v2h-2zM263 149h2v2h-2zM272 171h2v2h-2zM266 176h2v2h-2zM260 185h2v2h-2zM283 147h2v2h-2zM267 188h2v2h-2zM255 162h2v2h-2zM283 157h2v2h-2zM244 153h2v2h-2zM281 164h2v2h-2zM255 142h2v2h-2zM268 147h2v2h-2zM258 174h2v2h-2zM264 179h2v2h-2zM232 180h2v2h-2zM279 149h2v2h-2zM245 168h2v2h-2zM241 160h2v2h-2zM252 148h2v2h-2zM273 174h2v2h-2zM283 170h2v2h-2zM242 151h2v2h-2zM259 172h2v2h-2zM271 156h2v2h-2zM253 179h2v2h-2zM244 150h2v2h-2zM245 169h2v2h-2zM281 151h2v2h-2zM245 164h2v2h-2zM283 167h2v2h-2zM252 178h2v2h-2zM246 156h2v2h-2zM264 162h2v2h-2zM261 146h2v2h-2zM249 165h2v2h-2zM260 154h2v2h-2zM284 172h2v2h-2zM268 172h2v2h-2zM241 154h2v2h-2zM256 152h2v2h-2zM284 146h2v2h-2zM249 172h2v2h-2zM257 132h2v2h-2zM266 184h2v2h-2zM265 154h2v2h-2zM277 138h2v2h-2zM285 172h2v2h-2zM245 173h2v2h-2zM248 157h2v2h-2zM275 178h2v2h-2zM248 177h2v2h-2zM266 141h2v2h-2zM288 180h2v2h-2zM249 153h2v2h-2zM276 174h2v2h-2zM244 171h2v2h-2zM277 156h2v2h-2zM274 168h2v2h-2zM247 151h2v2h-2zM240 182h2v2h-2zM250 164h2v2h-2zM257 176h2v2h-2zM280 160h2v2h-2zM267 144h2v2h-2zM245 143h2v2h-2zM282 144h2v2h-2zM265 164h2v2h-2zM258 168h2v2h-2zM262 155h2v2h-2zM251 185h2v2h-2zM270 175h2v2h-2zM247 166h2v2h-2zM266 160h2v2h-2zM284 149h2v2h-2zM285 155h2v2h-2zM263 160h2v2h-2zM276 155h2v2h-2zM249 154h2v2h-2zM238 153h2v2h-2zM298 164h2v2h-2zM261 166h2v2h-2zM248 156h2v2h-2zM261 142h2v2h-2zM287 175h2v2h-2zM242 148h2v2h-2zM262 161h2v2h-2zM294 173h2v2h-2zM255 173h2v2h-2zM260 137h2v2h-2zM269 173h2v2h-2zM274 162h2v2h-2zM267 154h2v2h-2zM252 142h2v2h-2zM243 148h2v2h-2zM264 180h2v2h-2zM251 171h2v2h-2zM269 180h2v2h-2zM249 173h2v2h-2zM258 162h2v2h-2zM246 163h2v2h-2zM245 176h2v2h-2zM274 186h2v2h-2zM268 161h2v2h-2zM259 173h2v2h-2zM280 171h2v2h-2zM260 159h2v2h-2zM254 178h2v2h-2zM264 157h2v2h-2zM268 178h2v2h-2zM276 162h2v2h-2zM280 166h2v2h-2zM262 182h2v2h-2zM280 174h2v2h-2zM262 148h2v2h-2zM267 171h2v2h-2zM275 161h2v2h-2zM281 156h2v2h-2zM273 141h2v2h-2zM244 171h2v2h-2zM248 145h2v2h-2zM290 159h2v2h-2zM289 163h2v2h-2zM279 168h2v2h-2zM275 174h2v2h-2zM268 138h2v2h-2zM278 162h2v2h-2zM235 155h2v2h-2zM252 168h2v2h-2zM266 172h2v2h-2zM278 180h2v2h-2zM251 186h2v2h-2zM273 162h2v2h-2zM260 185h2v2h-2zM274 169h2v2h-2zM259 163h2v2h-2zM270 180h2v2h-2zM258 163h2v2h-2zM254 177h2v2h-2zM259 167h2v2h-2zM272 167h2v2h-2zM274 172h2v2h-2zM242 157h2v2h-2zM263 150h2v2h-2zM240 141h2v2h-2zM271 165h2v2h-2zM258 153h2v2h-2zM281 176h2v2h-2zM249 146h2v2h-2zM237 149h2v2h-2zM245 165h2v2h-2zM278 162h2v2h-2zM274 178h2v2h-2zM258 174h2v2h-2zM281 156h2v2h-2zM239 177h2v2h-2zM266 183h2v2h-2zM267 152h2v2h-2zM282 160h2v2h-2zM274 144h2v2h-2zM253 151h2v2h-2zM258 165h2v2h-2zM278 186h2v2h-2zM254 150h2v2h-2zM248 168h2v2h-2zM275 165h2v2h-2zM246 155h2v2h-2zM256 175h2v2h-2zM277 172h2v2h-2zM245 162h2v2h-2zM277 163h2v2h-2zM239 141h2v2h-2zM278 174h2v2h-2zM284 142h2v2h-2zM264 165h2v2h-2zM266 143h2v2h-2zM263 165h2v2h-2zM280 160h2v2h-2zM274 172h2v2h-2zM272 151h2v2h-2zM246 170h2v2h-2zM260 134h2v2h-2zM250 160h2v2h-2zM276 165h2v2h-2zM258 152h2v2h-2zM290 170h2v2h-2zM280 164h2v2h-2zM287 172h2v2h-2zM265 138h2v2h-2zM268 179h2v2h-2zM261 166h2v2h-2zM282 155h2v2h-2zM262 163h2v2h-2zM270 183h2v2h-2zM265 177h2v2h-2zM266 170h2v2h-2zM256 186h2v2h-2zM257 168h2v2h-2zM279 172h2v2h-2zM254 175h2v2h-2zM251 150h2v2h-2zM251 147h2v2h-2zM276 185h2v2h-2zM256 156h2v2h-2zM269 141h2v2h-2zM264 163h2v2h-2zM257 164h2v2h-2zM256 157h2v2h-2zM279 148h2v2h-2zM233 174h2v2h-2zM261 149h2v2h-2zM270 189h2v2h-2zM265 183h2v2h-2zM273 186h2v2h-2zM250 175h2v2h-2zM277 162h2v2h-2zM271 184h2v2h-2zM280 172h2v2h-2zM247 167h2v2h-2zM250 147h2v2h-2zM274 188h2v2h-2zM273 169h2v2h-2zM267 146h2v2h-2zM273 135h2v2h-2zM254 176h2v2h-2zM276 152h2v2h-2zM280 157h2v2h-2zM275 149h2v2h-2zM259 161h2v2h-2zM265 151h2v2h-2zM259 161h2v2h-2zM252 175h2v2h-2zM267 181h2v2h-2zM284 177h2v2h-2zM249 166h2v2h-2zM240 174h2v2h-2zM280 160h2v2h-2zM251 161h2v2h-2zM260 139h2v2h-2zM247 143h2v2h-2zM264 174h2v2h-2zM275 145h2v2h-2zM275 151h2v2h-2zM243 165h2v2h-2zM268 169h2v2h-2zM266 162h2v2h-2zM267 166h2v2h-2zM238 173h2v2h-2zM284 173h2v2h-2zM258 178h2v2h-2zM242 174h2v2h-2zM260 158h2v2h-2zM286 147h2v2h-2zM252 151h2v2h-2zM282 146h2v2h-2zM269 154h2v2h-2zM282 155h2v2h-2zM258 183h2v2h-2zM265 157h2v2h-2zM260 151h2v2h-2zM244 159h2v2h-2zM251 157h2v2h-2zM250 156h2v2h-2zM285 162h2v2h-2zM262 163h2v2h-2zM245 160h2v2h-2zM270 184h2v2h-2zM261 168h2v2h-2zM278 158h2v2h-2zM247 177h2v2h-2zM263 152h2v2h-2zM245 147h2v2h-2zM249 165h2v2h-2zM273 151h2v2h-2zM258 173h2v2h-2zM256 159h2v2h-2zM247 173h2v2h-2zM249 182h2v2h-2zM250 180h2v2h-2zM249 175h2v2h-2zM272 163h2v2h-2zM275 178h2v2h-2zM278 174h2v2h-2zM256 130h2v2h-2zM246 166h2v2h-2zM282 136h2v2h-2zM272 159h2v2h-2zM271 141h2v2h-2zM259 157h2v2h-2zM287 160h2v2h-2zM271 149h2v2h-2zM267 157h2v2h-2zM249 155h2v2h-2zM279 163h2v2h-2zM254 166h2v2h-2zM288 141h2v2h-2zM265 183h2v2h-2zM274 175h2v2h-2zM281 162h2v2h-2zM249 156h2v2h-2zM261 155h2v2h-2zM267 181h2v2h-2zM280 155h2v2h-2zM247 157h2v2h-2zM277 179h2v2h-2zM280 175h2v2h-2zM272 156h2v2h-2zM256 162h2v2h-2zM258 152h2v2h-2zM280 182h2v2h-2zM242 164h2v2h-2zM246 166h2v2h-2zM265 153h2v2h-2zM272 172h2v2h-2zM269 147h2v2h-2zM248 156h2v2h-2zM280 150h2v2h-2zM242 175h2v2h-2zM248 151h2v2h-2zM251 150h2v2h-2zM262 129h2v2h-2zM284 152h2v2h-2zM281 175h2v2h-2zM275 154h2v2h-2zM281 141h2v2h-2zM271 185h2v2h-2zM250 157h2v2h-2zM262 170h2v2h-2zM282 143h2v2h-2zM255 153h2v2h-2zM268 169h2v2h-2zM276 163h2v2h-2zM279 172h2v2h-2zM255 154h2v2h-2zM284 168h2v2h-2zM266 161h2v2h-2zM271 164h2v2h-2zM247 150h2v2h-2zM245 150h2v2h-2zM261 169h2v2h-2zM274 160h2v2h-2zM266 163h2v2h-2zM277 152h2v2h-2zM276 172h2v2h-2zM254 146h2v2h-2zM257 164h2v2h-2zM272 178h2v2h-2zM255 141h2v2h-2zM275 180h2v2h-2zM276 144h2v2h-2zM267 166h2v2h-2zM266 140h2v2h-2zM274 156h2v2h-2zM243 162h2v2h-2zM282 164h2v2h-2zM268 173h2v2h-2zM283 147h2v2h-2zM276 159h2v2h-2zM264 171h2v2h-2zM260 164h2v2h-2zM262 162h2v2h-2zM240 166h2v2h-2zM257 160h2v2h-2zM249 174h2v2h-2zM263 160h2v2h-2zM259 174h2v2h-2zM271 135h2v2h-2zM265 172h2v2h-2zM283 159h2v2h-2zM280 155h2v2h-2zM265 181h2v2h-2zM259 178h2v2h-2zM250 159h2v2h-2zM277 174h2v2h-2zM270 150h2v2h-2zM247 161h2v2h-2zM266 134h2v2h-2zM275 152h2v2h-2zM247 161h2v2h-2zM245 178h2v2h-2zM260 162h2v2h-2zM252 153h2v2h-2zM258 164h2v2h-2zM276 147h2v2h-2zM261 154h2v2h-2zM268 182h2v2h-2zM257 164h2v2h-2zM270 152h2v2h-2zM253 179h2v2h-2zM290 159h2v2h-2zM268 152h2v2h-2zM244 160h2v2h-2zM283 156h2v2h-2zM267 186h2v2h-2zM264 182h2v2h-2zM267 174h2v2h-2zM274 156h2v2h-2zM240 160h2v2h-2zM277 164h2v2h-2zM295 171h2v2h-2zM265 158h2v2h-2zM267 178h2v2h-2zM247 174h2v2h-2zM268 166h2v2h-2zM275 164h2v2h-2zM274 151h2v2h-2zM250 157h2v2h-2zM280 152h2v2h-2zM261 159h2v2h-2zM285 168h2v2h-2zM258 165h2v2h-2zM250 146h2v2h-2zM262 147h2v2h-2zM268 154h2v2h-2zM284 173h2v2h-2zM246 155h2v2h-2zM274 138h2v2h-2zM279 183h2v2h-2zM243 172h2v2h-2zM260 169h2v2h-2zM279 149h2v2h-2zM257 152h2v2h-2zM264 187h2v2h-2zM275 159h2v2h-2zM248 130h2v2h-2zM274 165h2v2h-2zM244 186h2v2h-2zM281 163h2v2h-2zM248 161h2v2h-2zM261 150h2v2h-2zM258 162h2v2h-2zM274 182h2v2h-2zM280 149h2v2h-2zM291 145h2v2h-2zM282 177h2v2h-2zM266 178h2v2h-2zM277 155h2v2h-2zM273 164h2v2h-2zM266 179h2v2h-2zM284 148h2v2h-2zM241 166h2v2h-2zM278 163h2v2h-2zM243 170h2v2h-2zM266 186h2v2h-2zM256 164h2v2h-2zM254 148h2v2h-2zM296 159h2v2h-2zM248 156h2v2h-2zM270 174h2v2h-2zM277 166h2v2h-2zM250 147h2v2h-2zM273 164h2v2h-2zM283 143h2v2h-2zM258 162h2v2h-2zM266 178h2v2h-2zM290 170h2v2h-2zM276 187h2v2h-2zM259 162h2v2h-2zM268 179h2v2h-2zM260 158h2v2h-2zM272 151h2v2h-2zM271 135h2v2h-2zM256 173h2v2h-2zM268 155h2v2h-2zM279 160h2v2h-2zM251 142h2v2h-2zM278 178h2v2h-2zM269 162h2v2h-2zM285 179h2v2h-2zM263 170h2v2h-2zM281 148h2v2h-2zM267 146h2v2h-2zM266 184h2v2h-2zM260 164h2v2h-2zM253 156h2v2h-2zM237 172h2v2h-2zM274 167h2v2h-2zM261 131h2v2h-2zM248 163h2v2h-2zM265 158h2v2h-2zM250 173h2v2h-2zM277 166h2v2h-2zM258 176h2v2h-2zM260 176h2v2h-2zM283 151h2v2h-2zM246 153h2v2h-2zM280 183h2v2h-2zM264 165h2v2h-2zM283 152h2v2h-2zM262 152h2v2h-2zM259 156h2v2h-2zM278 139h2v2h-2zM283 168h2v2h-2zM267 182h2v2h-2zM272 169h2v2h-2zM265 152h2v2h-2zM262 163h2v2h-2zM268 162h2v2h-2zM261 165h2v2h-2zM286 166h2v2h-2zM271 161h2v2h-2zM265 139h2v2h-2zM260 162h2v2h-2zM272 177h2v2h-2zM259 155h2v2h-2zM264 160h2v2h-2zM252 150h2v2h-2zM257 169h2v2h-2zM253 162h2v2h-2zM283 155h2v2h-2zM289 165h2v2h-2zM269 170h2v2h-2zM256 154h2v2h-2zM262 170h2v2h-2zM269 182h2v2h-2zM274 163h2v2h-2zM251 164h2v2h-2zM255 178h2v2h-2zM260 186h2v2h-2zM281 167h2v2h-2zM293 158h2v2h-2zM273 151h2v2h-2zM243 177h2v2h-2zM238 166h2v2h-2zM264 169h2v2h-2zM286 150h2v2h-2zM268 142h2v2h-2zM258 187h2v2h-2zM270 170h2v2h-2zM276 163h2v2h-2zM241 174h2v2h-2zM287 150h2v2h-2zM281 138h2v2h-2zM261 139h2v2h-2zM277 164h2v2h-2zM254 167h2v2h-2zM259 150h2v2h-2zM241 153h2v2h-2zM275 170h2v2h-2zM252 182h2v2h-2zM274 161h2v2h-2zM271 152h2v2h-2zM259 147h2v2h-2zM249 162h2v2h-2zM290 165h2v2h-2zM289 145h2v2h-2zM256 157h2v2h-2zM266 137h2v2h-2zM283 164h2v2h-2zM259 140h2v2h-2zM275 146h2v2h-2zM269 154h2v2h-2zM274 165h2v2h-2zM243 147h2v2h-2zM247 167h2v2h-2zM276 169h2v2h-2zM261 153h2v2h-2zM236 172h2v2h-2zM269 155h2v2h-2zM288 147h2v2h-2zM255 150h2v2h-2zM280 171h2v2h-2zM258 145h2v2h-2zM248 156h2v2h-2zM250 166h2v2h-2zM262 163h2v2h-2zM255 159h2v2h-2zM279 164h2v2h-2zM250 140h2v2h-2zM251 153h2v2h-2zM254 75h2v2h-2zM313 96h2v2h-2zM249 79h2v2h-2zM258 82h2v2h-2zM246 86h2v2h-2zM292 72h2v2h-2zM250 83h2v2h-2zM328 80h2v2h-2zM306 90h2v2h-2zM283 70h2v2h-2zM273 91h2v2h-2zM314 91h2v2h-2zM284 83h2v2h-2zM301 79h2v2h-2zM268 95h2v2h-2zM296 90h2v2h-2zM298 96h2v2h-2zM327 83h2v2h-2zM255 84h2v2h-2zM288 84h2v2h-2zM275 75h2v2h-2zM289 84h2v2h-2zM316 83h2v2h-2zM255 97h2v2h-2zM273 82h2v2h-2zM249 89h2v2h-2zM312 89h2v2h-2zM285 76h2v2h-2zM289 90h2v2h-2zM314 79h2v2h-2zM280 74h2v2h-2zM310 87h2v2h-2zM281 97h2v2h-2zM264 91h2v2h-2zM281 80h2v2h-2zM313 97h2v2h-2zM289 74h2v2h-2zM276 85h2v2h-2zM286 91h2v2h-2zM258 70h2v2h-2zM253 91h2v2h-2zM250 97h2v2h-2zM278 71h2v2h-2zM282 73h2v2h-2zM277 94h2v2h-2zM296 74h2v2h-2zM314 80h2v2h-2zM275 97h2v2h-2zM318 90h2v2h-2zM300 87h2v2h-2zM246 90h2v2h-2zM268 73h2v2h-2zM323 83h2v2h-2zM308 94h2v2h-2zM277 70h2v2h-2zM253 97h2v2h-2zM253 76h2v2h-2zM319 90h2v2h-2zM286 90h2v2h-2zM258 78h2v2h-2zM297 86h2v2h-2zM302 83h2v2h-2zM251 78h2v2h-2zM252 94h2v2h-2zM309 82h2v2h-2zM275 80h2v2h-2zM289 100h2v2h-2zM319 93h2v2h-2zM305 86h2v2h-2zM308 97h2v2h-2zM306 72h2v2h-2zM299 75h2v2h-2zM304 82h2v2h-2zM291 92h2v2h-2zM307 89h2v2h-2zM268 73h2v2h-2zM283 92h2v2h-2zM270 90h2v2h-2zM303 73h2v2h-2zM284 74h2v2h-2zM271 77h2v2h-2zM280 83h2v2h-2zM256 91h2v2h-2zM282 73h2v2h-2zM278 83h2v2h-2zM281 97h2v2h-2zM286 77h2v2h-2zM273 71h2v2h-2zM257 70h2v2h-2zM260 88h2v2h-2zM291 83h2v2h-2zM327 85h2v2h-2zM271 96h2v2h-2zM258 96h2v2h-2zM314 88h2v2h-2zM241 154h2v2h-2zM228 177h2v2h-2zM226 117h2v2h-2zM224 122h2v2h-2zM214 167h2v2h-2zM232 155h2v2h-2zM233 157h2v2h-2zM237 128h2v2h-2zM234 165h2v2h-2zM214 139h2v2h-2zM221 160h2v2h-2zM229 184h2v2h-2zM240 152h2v2h-2zM226 122h2v2h-2zM219 179h2v2h-2zM227 173h2v2h-2zM230 141h2v2h-2zM224 115h2v2h-2zM213 150h2v2h-2zM233 128h2v2h-2zM227 148h2v2h-2zM217 171h2v2h-2zM224 152h2v2h-2zM226 186h2v2h-2zM219 117h2v2h-2zM230 148h2v2h-2zM238 131h2v2h-2zM217 187h2v2h-2zM222 120h2v2h-2zM237 141h2v2h-2zM221 124h2v2h-2zM233 146h2v2h-2zM233 185h2v2h-2zM232 112h2v2h-2zM222 182h2v2h-2zM223 123h2v2h-2zM220 141h2v2h-2zM235 186h2v2h-2zM238 164h2v2h-2zM221 122h2v2h-2zM218 119h2v2h-2zM228 115h2v2h-2zM220 165h2v2h-2zM229 127h2v2h-2zM227 120h2v2h-2zM234 162h2v2h-2zM216 171h2v2h-2zM230 183h2v2h-2zM224 187h2v2h-2zM242 161h2v2h-2zM237 124h2v2h-2zM220 130h2v2h-2zM226 121h2v2h-2zM220 170h2v2h-2zM232 132h2v2h-2zM215 178h2v2h-2zM223 185h2v2h-2zM233 125h2v2h-2zM238 122h2v2h-2zM234 160h2v2h-2zM237 141h2v2h-2zM232 129h2v2h-2zM216 127h2v2h-2zM225 141h2v2h-2zM230 158h2v2h-2zM221 119h2v2h-2zM223 173h2v2h-2zM236 166h2v2h-2zM221 147h2v2h-2zM236 152h2v2h-2zM216 117h2v2h-2zM218 140h2v2h-2zM223 144h2v2h-2zM230 112h2v2h-2zM235 169h2v2h-2zM229 110h2v2h-2zM223 177h2v2h-2zM215 136h2v2h-2zM220 184h2v2h-2zM225 182h2v2h-2zM302 153h2v2h-2zM298 171h2v2h-2zM307 133h2v2h-2zM315 112h2v2h-2zM318 116h2v2h-2zM298 162h2v2h-2zM314 135h2v2h-2zM300 162h2v2h-2zM314 100h2v2h-2zM311 121h2v2h-2zM298 169h2v2h-2zM317 119h2v2h-2zM319 109h2v2h-2zM311 125h2v2h-2zM295 159h2v2h-2zM306 123h2v2h-2zM314 122h2v2h-2zM304 144h2v2h-2zM304 116h2v2h-2zM306 132h2v2h-2zM301 136h2v2h-2zM305 163h2v2h-2zM309 108h2v2h-2zM313 151h2v2h-2zM304 110h2v2h-2zM314 135h2v2h-2zM304 165h2v2h-2zM311 115h2v2h-2zM301 113h2v2h-2zM320 111h2v2h-2zM296 167h2v2h-2zM307 110h2v2h-2zM316 128h2v2h-2zM315 124h2v2h-2zM318 106h2v2h-2zM304 162h2v2h-2zM310 104h2v2h-2zM311 118h2v2h-2zM316 135h2v2h-2zM304 133h2v2h-2zM309 109h2v2h-2zM297 146h2v2h-2zM310 113h2v2h-2zM318 118h2v2h-2zM304 156h2v2h-2zM280 232h2v2h-2zM258 193h2v2h-2zM264 212h2v2h-2zM282 190h2v2h-2zM267 195h2v2h-2zM289 190h2v2h-2zM272 238h2v2h-2zM262 218h2v2h-2zM236 192h2v2h-2zM254 199h2v2h-2zM253 195h2v2h-2zM272 217h2v2h-2zM251 205h2v2h-2zM253 216h2v2h-2zM259 201h2v2h-2zM290 203h2v2h-2zM293 195h2v2h-2zM258 223h2v2h-2zM253 212h2v2h-2zM294 193h2v2h-2zM260 213h2v2h-2zM284 209h2v2h-2zM287 195h2v2h-2zM283 234h2v2h-2zM261 194h2v2h-2zM275 237h2v2h-2zM262 197h2v2h-2zM258 200h2v2h-2zM277 213h2v2h-2zM264 239h2v2h-2zM257 213h2v2h-2zM261 195h2v2h-2zM268 235h2v2h-2zM256 205h2v2h-2zM271 220h2v2h-2zM281 233h2v2h-2zM251 215h2v2h-2zM285 201h2v2h-2zM274 236h2v2h-2zM285 216h2v2h-2z" fill="#111"/>
<path d="M95 23.8H369.2" fill="none" stroke="#222" stroke-width="1.3"/>
<path d="M369.2 23.8V258.3" fill="none" stroke="#666" stroke-width="1.5"/>
<path d="M95 23.2V258.3" fill="none" stroke="#111" stroke-width="2"/>
<path d="M95 258.3H369.9" fill="none" stroke="#111" stroke-width="1.6"/>
<path d="M210.2 23.8V258.3" fill="none" stroke="#3a3a3a" stroke-width="1.8"/>
<path d="M95 188.9H369.2" fill="none" stroke="#333" stroke-width="1.5"/>
<path d="M95 23.8h-3M95 82.4h-3M95 141.1h-3M95 199.7h-3M95 258.3h-3M95.0 258.3v3M163.6 258.3v3M232.1 258.3v3M300.6 258.3v3M369.2 258.3v3" stroke="#222" stroke-width="1.2"/>
<path d="M115.6 258.3v2M95 240.7h-2M127.7 258.3v2M95 230.3h-2M136.3 258.3v2M95 223.0h-2M142.9 258.3v2M95 217.3h-2M148.3 258.3v2M95 212.7h-2M152.9 258.3v2M95 208.8h-2M156.9 258.3v2M95 205.4h-2M160.4 258.3v2M95 202.4h-2M184.2 258.3v2M95 182.0h-2M196.3 258.3v2M95 171.7h-2M204.8 258.3v2M95 164.4h-2M211.5 258.3v2M95 158.7h-2M216.9 258.3v2M95 154.1h-2M221.5 258.3v2M95 150.1h-2M225.5 258.3v2M95 146.7h-2M229.0 258.3v2M95 143.7h-2M252.7 258.3v2M95 123.4h-2M264.8 258.3v2M95 113.1h-2M273.4 258.3v2M95 105.8h-2M280.0 258.3v2M95 100.1h-2M285.4 258.3v2M95 95.4h-2M290.0 258.3v2M95 91.5h-2M294.0 258.3v2M95 88.1h-2M297.5 258.3v2M95 85.1h-2M321.3 258.3v2M95 64.8h-2M333.4 258.3v2M95 54.5h-2M341.9 258.3v2M95 47.1h-2M348.6 258.3v2M95 41.4h-2M354.0 258.3v2M95 36.8h-2M358.6 258.3v2M95 32.9h-2M362.6 258.3v2M95 29.5h-2M366.1 258.3v2M95 26.5h-2" stroke="#333" stroke-width="1"/>
<text transform="translate(89.6 22.5) rotate(-90)" font-size="13">10<tspan dx="0.3" dy="-3.8" font-size="8.5">4</tspan></text>
<text transform="translate(89.6 82.1) rotate(-90)" font-size="13">10<tspan dx="0.3" dy="-3.8" font-size="8.5">3</tspan></text>
<text transform="translate(89.6 139.3) rotate(-90)" font-size="13">10<tspan dx="0.3" dy="-3.8" font-size="8.5">2</tspan></text>
<text transform="translate(89.6 196.1) rotate(-90)" font-size="13">10<tspan dx="0.3" dy="-3.8" font-size="8.5">1</tspan></text>
<text transform="translate(89.6 257.3) rotate(-90)" font-size="13">10<tspan dx="0.3" dy="-3.8" font-size="8.5">0</tspan></text>
<text transform="translate(94.4 272.4)" font-size="13">10<tspan dx="0.3" dy="-3.8" font-size="8.5">0</tspan></text>
<text transform="translate(163.0 272.4)" font-size="13">10<tspan dx="0.3" dy="-3.8" font-size="8.5">1</tspan></text>
<text transform="translate(231.5 272.4)" font-size="13">10<tspan dx="0.3" dy="-3.8" font-size="8.5">2</tspan></text>
<text transform="translate(300.0 272.4)" font-size="13">10<tspan dx="0.3" dy="-3.8" font-size="8.5">3</tspan></text>
<text transform="translate(368.6 272.4)" font-size="13">10<tspan dx="0.3" dy="-3.8" font-size="8.5">4</tspan></text>
<text x="104" y="61" font-size="25" stroke="#000" stroke-width="0.45">4%</text>
<text x="310" y="60.6" font-size="25" stroke="#000" stroke-width="0.45">93%</text>
<path d="M111 243.6V224.6h3V243.6z M111.2 224.4h2.8l-0.6 3.2q-2.4 3.2-5.8 4.4l-0.4-2.6q2.6-1.4 4-5z" fill="#000"/>
<text x="118.2" y="244.2" font-size="25" stroke="#000" stroke-width="0.45">%</text>
<text x="319.5" y="244" font-size="25" stroke="#000" stroke-width="0.45">2%</text>
<text transform="translate(61.8 173) rotate(-90)" font-size="29" stroke="#000" stroke-width="0.5">Ki-M4</text>
<text x="201" y="302" font-size="29.5" stroke="#000" stroke-width="0.5">HJ2</text>
<text x="0.3" y="385.3" font-size="36.5" stroke="#000" stroke-width="0.5">B.</text>
<text transform="translate(53.7 573) rotate(-90)" font-size="21.8" stroke="#000" stroke-width="0.2">Cell Number</text>
<path d="M96.2 358.3V475.3" fill="none" stroke="#333" stroke-width="1.7"/>
<path d="M96.2 475.3H209" fill="none" stroke="#222" stroke-width="1.4"/>
<path d="M95.2 358.3h2v1.6h-2zM95.2 387.6h2v1.6h-2zM95.2 416.8h2v1.6h-2zM95.2 446.1h2v1.6h-2z" fill="#222"/>
<text transform="translate(91.5 362.6) rotate(-90)" font-size="8.5" stroke="#000" stroke-width="0.25">64</text>
<text transform="translate(91.1 477.3) rotate(-90)" font-size="7.5" stroke="#000" stroke-width="0.15">0</text>
<text transform="translate(93.5 485.1) scale(0.769 1)" font-size="9.5">10<tspan dy="-3.5" font-size="6.5">0</tspan></text>
<text transform="translate(126.5 485.1) scale(0.769 1)" font-size="9.5">10<tspan dy="-3.5" font-size="6.5">1</tspan></text>
<text transform="translate(159.5 485.1) scale(0.769 1)" font-size="9.5">10<tspan dy="-3.5" font-size="6.5">2</tspan></text>
<text transform="translate(192.5 485.1) scale(0.769 1)" font-size="9.5">10<tspan dy="-3.5" font-size="6.5">3</tspan></text>
<text x="126.5" y="510.5" font-size="21.2" font-weight="bold" stroke="#000" stroke-width="0.55">CD19</text>
<path d="M234.9 360V474.6" fill="none" stroke="#777" stroke-width="1.7"/>
<path d="M234.9 474.6H360" fill="none" stroke="#222" stroke-width="1.4"/>
<path d="M233.9 360.0h2v1.6h-2zM233.9 388.6h2v1.6h-2zM233.9 417.3h2v1.6h-2zM233.9 446.0h2v1.6h-2z" fill="#222"/>
<text transform="translate(231.2 364.3) rotate(-90)" font-size="8.5" stroke="#000" stroke-width="0.25">64</text>
<text transform="translate(230.79999999999998 476.6) rotate(-90)" font-size="7.5" stroke="#000" stroke-width="0.15">0</text>
<text transform="translate(233.0 484.40000000000003) scale(0.727 1)" font-size="9.5">10<tspan dy="-3.5" font-size="6.5">0</tspan></text>
<text transform="translate(264.2 484.40000000000003) scale(0.727 1)" font-size="9.5">10<tspan dy="-3.5" font-size="6.5">1</tspan></text>
<text transform="translate(295.4 484.40000000000003) scale(0.727 1)" font-size="9.5">10<tspan dy="-3.5" font-size="6.5">2</tspan></text>
<text transform="translate(326.6 484.40000000000003) scale(0.727 1)" font-size="9.5">10<tspan dy="-3.5" font-size="6.5">3</tspan></text>
<text transform="translate(357.8 484.40000000000003) scale(0.727 1)" font-size="9.5">1</text>
<text x="287" y="510.5" font-size="21.2" font-weight="bold" stroke="#000" stroke-width="0.55">DR</text>
<path d="M385.5 360.2V475.3" fill="none" stroke="#777" stroke-width="1.7"/>
<path d="M385.5 475.3H510.8" fill="none" stroke="#222" stroke-width="1.4"/>
<path d="M384.5 360.2h2v1.6h-2zM384.5 389.0h2v1.6h-2zM384.5 417.8h2v1.6h-2zM384.5 446.5h2v1.6h-2z" fill="#222"/>
<text transform="translate(381.8 364.5) rotate(-90)" font-size="8.5" stroke="#000" stroke-width="0.25">64</text>
<text transform="translate(381.40000000000003 477.3) rotate(-90)" font-size="7.5" stroke="#000" stroke-width="0.15">0</text>
<text transform="translate(384.6 485.1) scale(0.713 1)" font-size="9.5">10<tspan dy="-3.5" font-size="6.5">0</tspan></text>
<text transform="translate(415.2 485.1) scale(0.713 1)" font-size="9.5">10<tspan dy="-3.5" font-size="6.5">1</tspan></text>
<text transform="translate(445.8 485.1) scale(0.713 1)" font-size="9.5">10<tspan dy="-3.5" font-size="6.5">2</tspan></text>
<text transform="translate(476.4 485.1) scale(0.713 1)" font-size="9.5">10<tspan dy="-3.5" font-size="6.5">3</tspan></text>
<text transform="translate(507.0 485.1) scale(0.713 1)" font-size="9.5">10<tspan dy="-3.5" font-size="6.5">4</tspan></text>
<text x="432.8" y="510.5" font-size="21.2" font-weight="bold" stroke="#000" stroke-width="0.55">CD3</text>
<path d="M91.1 533.1V658.8" fill="none" stroke="#888" stroke-width="1.7"/>
<path d="M91.1 658.8H202" fill="none" stroke="#222" stroke-width="1.4"/>
<path d="M90.1 533.1h2v1.6h-2zM90.1 564.5h2v1.6h-2zM90.1 596.0h2v1.6h-2zM90.1 627.4h2v1.6h-2z" fill="#222"/>
<text transform="translate(87.7 537.6) rotate(-90)" font-size="8.5" stroke="#000" stroke-width="0.25">64</text>
<text transform="translate(87.3 660.8) rotate(-90)" font-size="7.5" stroke="#000" stroke-width="0.15">0</text>
<text transform="translate(89.2 668.5999999999999) scale(0.636 1)" font-size="9.5">10<tspan dy="-3.5" font-size="6.5">0</tspan></text>
<text transform="translate(116.5 668.5999999999999) scale(0.636 1)" font-size="9.5">10<tspan dy="-3.5" font-size="6.5">1</tspan></text>
<text transform="translate(143.8 668.5999999999999) scale(0.636 1)" font-size="9.5">10<tspan dy="-3.5" font-size="6.5">2</tspan></text>
<text transform="translate(171.1 668.5999999999999) scale(0.636 1)" font-size="9.5">10<tspan dy="-3.5" font-size="6.5">3</tspan></text>
<text transform="translate(198.4 668.5999999999999) scale(0.636 1)" font-size="9.5">10<tspan dy="-3.5" font-size="6.5">4</tspan></text>
<text x="132.3" y="694" font-size="21.2" font-weight="bold" stroke="#000" stroke-width="0.55">CD4</text>
<path d="M240.9 533.3V659.1" fill="none" stroke="#888" stroke-width="1.7"/>
<path d="M240.9 659.1H343.8" fill="none" stroke="#222" stroke-width="1.4"/>
<path d="M239.9 533.3h2v1.6h-2zM239.9 564.8h2v1.6h-2zM239.9 596.2h2v1.6h-2zM239.9 627.6h2v1.6h-2z" fill="#222"/>
<text transform="translate(237.6 537.9) rotate(-90)" font-size="8.5" stroke="#000" stroke-width="0.25">64</text>
<text transform="translate(237.2 661.1) rotate(-90)" font-size="7.5" stroke="#000" stroke-width="0.15">0</text>
<text transform="translate(239.0 668.9) scale(0.594 1)" font-size="9.5">10<tspan dy="-3.5" font-size="6.5">0</tspan></text>
<text transform="translate(264.5 668.9) scale(0.594 1)" font-size="9.5">10<tspan dy="-3.5" font-size="6.5">1</tspan></text>
<text transform="translate(290.0 668.9) scale(0.594 1)" font-size="9.5">10<tspan dy="-3.5" font-size="6.5">2</tspan></text>
<text transform="translate(315.5 668.9) scale(0.594 1)" font-size="9.5">10<tspan dy="-3.5" font-size="6.5">3</tspan></text>
<text transform="translate(341.0 668.9) scale(0.594 1)" font-size="9.5">10<tspan dy="-3.5" font-size="6.5">4</tspan></text>
<text x="276" y="694" font-size="21.2" font-weight="bold" stroke="#000" stroke-width="0.55">CD13</text>
<path d="M384 533.5V659.2" fill="none" stroke="#777" stroke-width="1.7"/>
<path d="M384 659.2H501.5" fill="none" stroke="#222" stroke-width="1.4"/>
<path d="M383.0 533.5h2v1.6h-2zM383.0 564.9h2v1.6h-2zM383.0 596.4h2v1.6h-2zM383.0 627.8h2v1.6h-2z" fill="#222"/>
<text transform="translate(380.6 538.6) rotate(-90)" font-size="8.5" stroke="#000" stroke-width="0.25">32</text>
<text transform="translate(380.20000000000005 661.2) rotate(-90)" font-size="7.5" stroke="#000" stroke-width="0.15">0</text>
<text transform="translate(381.5 669.0) scale(0.673 1)" font-size="9.5">10<tspan dy="-3.5" font-size="6.5">0</tspan></text>
<text transform="translate(410.4 669.0) scale(0.673 1)" font-size="9.5">10<tspan dy="-3.5" font-size="6.5">1</tspan></text>
<text transform="translate(439.3 669.0) scale(0.673 1)" font-size="9.5">10<tspan dy="-3.5" font-size="6.5">2</tspan></text>
<text transform="translate(468.2 669.0) scale(0.673 1)" font-size="9.5">10<tspan dy="-3.5" font-size="6.5">3</tspan></text>
<text transform="translate(497.1 669.0) scale(0.673 1)" font-size="9.5">10<tspan dy="-3.5" font-size="6.5">4</tspan></text>
<text x="426.8" y="694" font-size="21.2" font-weight="bold" stroke="#000" stroke-width="0.55">CD22</text>
<path d="M96.0 474.0L110.0 473.8L120.0 472.5L124.5 472.5L126.9 470.8L132.1 467.3L135.6 463.8L139.0 455.2L142.5 444.8L146.0 436.2L148.6 424.0L151.2 410.2L153.7 392.9L155.5 386.0L156.7 375.6L158.9 382.5L161.5 394.6L165.0 410.2L170.2 431.0L175.4 446.5L180.6 460.4L185.8 469.0L192.7 473.4L201.3 474.2L208.3 474.2" fill="none" stroke="#000" stroke-width="2.15" stroke-linejoin="round"/>
<path d="M234.0 474.6L260.0 474.6L270.4 474.3L277.3 471.7L281.6 468.3L285.1 459.6L287.7 449.2L290.3 435.4L292.9 423.3L295.5 409.4L297.2 401.6L299.8 397.3L302.4 393.0L304.1 399.9L305.9 398.2L307.6 400.8L310.2 397.3L311.9 402.5L313.7 414.6L315.4 423.3L318.0 440.6L320.6 452.7L324.0 462.2L328.4 469.1L332.7 473.5L337.9 474.6L360.0 474.6" fill="none" stroke="#000" stroke-width="2.15" stroke-linejoin="round"/>
<path d="M385.5 475.0L385.5 459.2L386.0 450.6L388.7 450.6L391.2 443.7L393.0 440.2L394.7 441.0L397.3 429.8L399.9 427.2L401.6 422.0L404.2 418.6L406.0 416.0L407.7 408.2L409.4 409.0L411.2 410.8L412.9 412.5L414.6 410.8L417.2 412.5L418.9 421.2L421.5 431.5L424.1 441.9L426.7 452.3L429.3 461.8L431.9 466.1L434.5 470.5L438.8 472.7L444.0 474.5L452.7 474.8L459.6 474.0L470.0 475.1L510.8 475.1" fill="none" stroke="#000" stroke-width="2.15" stroke-linejoin="round"/>
<path d="M91.2 658.5L91.5 614.6L93.5 616.2L95.8 611.5L98.1 606.9L100.4 604.6L102.7 606.2L105.0 610.0L107.3 604.6L109.6 605.4L111.9 606.9L113.5 610.8L115.0 616.2L117.3 616.2L119.2 613.0L120.7 610.0L121.9 616.9L123.5 623.8L125.3 631.5L127.3 639.2L129.6 644.6L132.7 648.5L135.8 652.3L139.6 656.2L145.0 658.0L151.2 658.5L202.0 658.8" fill="none" stroke="#000" stroke-width="2.15" stroke-linejoin="round"/>
<path d="M240.7 659.1L241.1 627.5L243.1 626.1L245.1 621.4L247.1 620.1L248.5 614.0L249.8 607.3L251.8 599.2L253.2 593.2L254.9 596.5L256.3 586.4L257.9 591.2L259.9 591.8L261.9 590.5L263.3 596.5L265.3 599.2L267.3 606.0L269.3 618.1L271.3 631.5L273.4 642.3L276.0 649.0L278.7 652.4L282.1 655.8L288.8 656.4L294.2 658.4L305.0 659.1L343.8 659.1" fill="none" stroke="#000" stroke-width="2.15" stroke-linejoin="round"/>
<path d="M383.8 658.8L384.3 639.6L386.2 641.9L388.5 640.4L390.8 637.3L393.1 635.8L394.6 630.4L396.2 634.2L398.5 632.7L401.5 633.5L403.8 627.3L406.2 628.1L408.5 625.8L410.8 621.2L412.3 625.0L413.8 632.7L416.2 622.7L417.7 624.2L419.2 631.9L421.5 635.0L423.8 638.1L426.2 644.2L429.2 648.1L432.3 651.2L435.4 654.2L438.5 656.5L441.5 658.1L446.2 658.1L450.8 658.5L460.0 659.2L501.5 659.2" fill="none" stroke="#000" stroke-width="2.15" stroke-linejoin="round"/>
<path d="M96.0 452.0L99.5 451.4L102.0 441.0L104.7 432.4L107.2 415.2L109.0 398.0L110.7 391.0L113.3 380.7L115.0 379.0L116.7 371.2L118.4 382.4L121.0 387.6L123.6 401.4L126.2 416.9L128.0 430.7L130.5 444.5L133.1 460.0L135.7 467.0L140.0 472.0L145.2 473.8L175.0 474.0L205.0 474.0" fill="none" stroke="#222" stroke-width="1.1" stroke-dasharray="4.5 2.5"/>
</svg>
</body></html>
